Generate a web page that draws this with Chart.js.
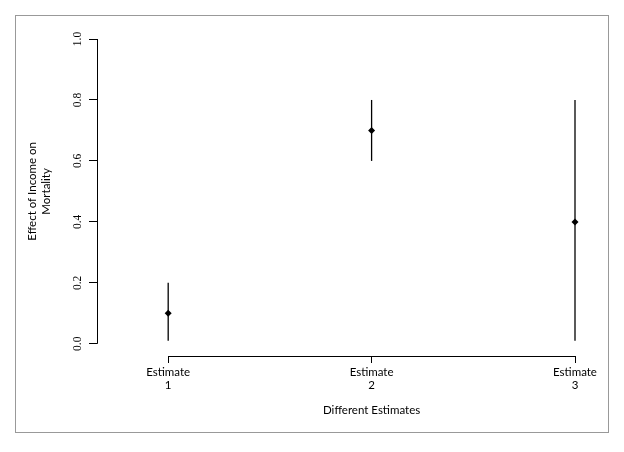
<!DOCTYPE html>
<html><head><meta charset="utf-8">
<script src="https://cdn.jsdelivr.net/npm/chart.js@4"></script>
<style>
html,body{margin:0;padding:0;background:#fff;}
#wrap{position:relative;width:624px;height:452px;}
#frame{position:absolute;left:15px;top:15px;width:594px;height:418px;border:1px solid #999;box-sizing:border-box;pointer-events:none;}
canvas{position:absolute;left:0;top:0;}
</style></head><body>
<div id="wrap"><canvas id="c" width="624" height="452"></canvas><div id="frame"></div></div>
<script>
const categories = ["Estimate 1", "Estimate 2", "Estimate 3"];
const categoryPos = [1, 2, 3];
const estimates = [0.10, 0.70, 0.40];
const lowerBounds = [0.01, 0.60, 0.01];
const upperBounds = [0.20, 0.80, 0.80];
const yTicks = [0.0, 0.2, 0.4, 0.6, 0.8, 1.0];
const xTitle = "Different Estimates";
const yTitle = ["Effect of Income on", "Mortality"];

const labelFont = "Lato";
const tickFont = "Liberation Serif";

const rAxes = {
  id: 'rAxes',
  afterDraw(chart) {
    const {ctx, chartArea} = chart;
    const x = chart.scales.x, y = chart.scales.y;
    ctx.save();
    ctx.strokeStyle = '#000';
    ctx.lineWidth = 1;
    const yx = Math.round(chartArea.left) + 0.5;
    ctx.beginPath();
    ctx.moveTo(yx, y.getPixelForValue(yTicks[0]));
    ctx.lineTo(yx, y.getPixelForValue(yTicks[yTicks.length - 1]));
    ctx.stroke();
    const xy = Math.round(chartArea.bottom) + 0.5;
    ctx.beginPath();
    ctx.moveTo(x.getPixelForValue(categoryPos[0]), xy);
    ctx.lineTo(x.getPixelForValue(categoryPos[categoryPos.length - 1]), xy);
    ctx.stroke();
    ctx.fillStyle = '#000';
    ctx.font = '11.5px ' + labelFont;
    ctx.textAlign = 'center';
    ctx.textBaseline = 'middle';
    const midX = x.getPixelForValue((categoryPos[0] + categoryPos[categoryPos.length - 1]) / 2);
    ctx.fillText(xTitle, midX, chartArea.bottom + 54);
    ctx.translate(chartArea.left - 58, y.getPixelForValue((yTicks[0] + yTicks[yTicks.length - 1]) / 2));
    ctx.rotate(-Math.PI / 2);
    const n = yTitle.length;
    yTitle.forEach((t, i) => ctx.fillText(t, 0, (i - (n - 1) / 2) * 14));
    ctx.restore();
  }
};

new Chart(document.getElementById('c'), {
  type: 'bar',
  data: {
    datasets: [
      {
        type: 'bar',
        data: categoryPos.map((p, i) => ({x: p, y: [lowerBounds[i], upperBounds[i]]})),
        backgroundColor: '#000',
        borderWidth: 0,
        inflateAmount: 0,
        barThickness: 1.3,
        clip: false
      },
      {
        type: 'scatter',
        data: categoryPos.map((p, i) => ({x: p, y: estimates[i]})),
        pointStyle: 'rectRot',
        radius: 3.5,
        backgroundColor: '#000',
        borderWidth: 0,
        clip: false
      }
    ]
  },
  options: {
    responsive: false,
    animation: false,
    layout: {padding: {left: 0, right: 49, top: 39, bottom: 0}},
    plugins: {legend: {display: false}, tooltip: {enabled: false}},
    scales: {
      x: {
        type: 'linear',
        min: 0.65,
        max: 3,
        offset: false,
        afterBuildTicks: s => { s.ticks = categoryPos.map(v => ({value: v})); },
        afterFit: s => { s.height = 96; },
        border: {display: false},
        grid: {display: true, offset: false, drawOnChartArea: false, drawTicks: true, tickLength: 7, color: '#000', lineWidth: 1},
        ticks: {
          autoSkip: false, maxRotation: 0, minRotation: 0, padding: 2, color: '#000',
          font: {family: labelFont, size: 11.5},
          callback: v => { const i = categoryPos.indexOf(v); return i >= 0 ? categories[i].split(' ') : ''; }
        }
      },
      y: {
        type: 'linear',
        min: -0.04,
        max: 1.0,
        afterBuildTicks: s => { s.ticks = yTicks.map(v => ({value: v})); },
        afterFit: s => { s.width = 97; },
        border: {display: false},
        grid: {display: true, drawOnChartArea: false, drawTicks: true, tickLength: 8, color: '#000', lineWidth: 1},
        ticks: {
          minRotation: 90, maxRotation: 90, crossAlign: 'center', padding: 4, color: '#000',
          font: {family: tickFont, size: 11.5},
          callback: v => v.toFixed(1)
        }
      }
    }
  },
  plugins: [rAxes]
});
</script>
</body></html>
